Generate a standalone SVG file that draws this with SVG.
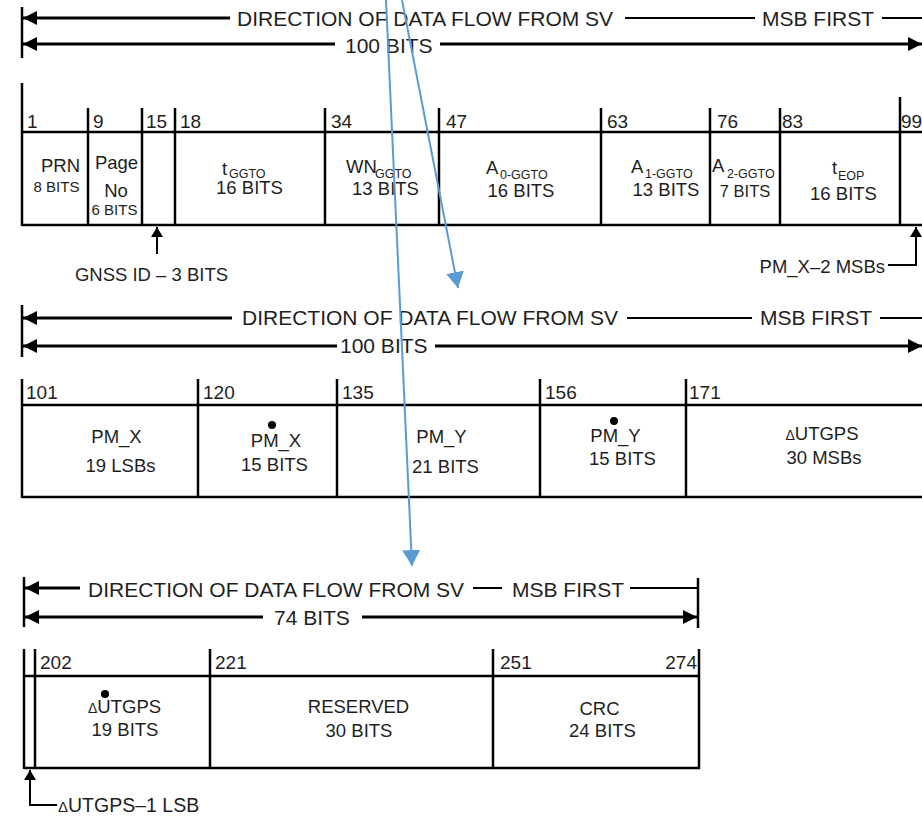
<svg xmlns="http://www.w3.org/2000/svg" width="922" height="818" viewBox="0 0 922 818">
<style>
text{font-family:"Liberation Sans",Arial,sans-serif;fill:#1e1e1e}
.h{font-size:21px}
.n{font-size:19px}
.l{font-size:18.5px}
.s{font-size:15px}
.sub{font-size:12.5px}
.m{text-anchor:middle}
.ln{stroke:#000;stroke-width:2.5;fill:none}
.ar{stroke:#000;stroke-width:3;fill:none}
.dl{stroke:#000;stroke-width:2;fill:none}
.bl{stroke:#5B9BD5;stroke-width:2;fill:none}
</style>
<defs>
<marker id="ah" viewBox="0 0 14 14" refX="14" refY="7" markerWidth="14" markerHeight="14" markerUnits="userSpaceOnUse" orient="auto-start-reverse">
<path d="M0,0 L14,7 L0,14 z" fill="#000"/>
</marker>
<marker id="sh" viewBox="0 0 10 12" refX="10" refY="6" markerWidth="10" markerHeight="12" markerUnits="userSpaceOnUse" orient="auto-start-reverse">
<path d="M0,0 L10,6 L0,12 z" fill="#000"/>
</marker>
<marker id="bh" viewBox="0 0 16 18" refX="16" refY="9" markerWidth="16" markerHeight="18" markerUnits="userSpaceOnUse" orient="auto">
<path d="M0,0 L16,9 L0,18 z" fill="#5B9BD5"/>
</marker>
</defs>

<!-- Header 1 -->
<g id="header1">
<line class="ln" x1="22" y1="7" x2="22" y2="58"/>
<line class="ar" x1="23" y1="18" x2="230" y2="18" marker-start="url(#ah)"/>
<text class="h" x="237" y="26">DIRECTION OF DATA FLOW FROM SV</text>
<line class="dl" x1="625" y1="18" x2="755" y2="18"/>
<text class="h" x="762" y="26">MSB FIRST</text>
<line class="dl" x1="882" y1="18" x2="922" y2="18"/>
<line class="ar" x1="23" y1="44" x2="335" y2="44" marker-start="url(#ah)"/>
<text class="h" x="345" y="53">100 BITS</text>
<line class="ar" x1="440" y1="44" x2="922" y2="44" marker-end="url(#ah)"/>
</g>

<!-- Table 1 -->
<g id="table1">
<line class="ln" x1="22" y1="132" x2="922" y2="132"/>
<line class="ln" x1="22" y1="225" x2="922" y2="225"/>
<line class="ln" x1="22" y1="83" x2="22" y2="226"/>
<line class="ln" x1="88" y1="108" x2="88" y2="225"/>
<line class="ln" x1="142" y1="108" x2="142" y2="225"/>
<line class="ln" x1="175" y1="108" x2="175" y2="225"/>
<line class="ln" x1="325" y1="108" x2="325" y2="225"/>
<line class="ln" x1="439" y1="108" x2="439" y2="225"/>
<line class="ln" x1="601" y1="108" x2="601" y2="225"/>
<line class="ln" x1="710" y1="108" x2="710" y2="225"/>
<line class="ln" x1="780" y1="108" x2="780" y2="225"/>
<line class="ln" x1="900" y1="97" x2="900" y2="225"/>
</g>
<g id="f-prn">
<text class="n" x="27" y="128">1</text>
<text class="l m" x="60.5" y="172">PRN</text>
<text class="s m" x="56.5" y="192">8 BITS</text>
</g>
<g id="f-page">
<text class="n" x="93" y="128">9</text>
<text class="l m" x="116.5" y="169">Page</text>
<text class="l m" x="116" y="197">No</text>
<text class="s m" x="114.5" y="215">6 BITS</text>
</g>
<g id="f-gnss">
<text class="n" x="146" y="128">15</text>
</g>
<g id="f-tggto">
<text class="n" x="180" y="128">18</text>
<text class="l" x="222" y="175">t</text>
<text class="sub" x="229" y="178">GGTO</text>
<text class="l m" x="249.5" y="194">16 BITS</text>
</g>
<g id="f-wnggto">
<text class="n" x="331" y="128">34</text>
<text class="l" x="346" y="173">WN</text>
<text class="sub" x="375" y="178">GGTO</text>
<text class="l m" x="385.5" y="195">13 BITS</text>
</g>
<g id="f-a0">
<text class="n" x="446" y="128">47</text>
<text class="l" x="486" y="174">A</text>
<text class="sub" x="500" y="179">0-GGTO</text>
<text class="l m" x="521" y="197">16 BITS</text>
</g>
<g id="f-a1">
<text class="n" x="607" y="128">63</text>
<text class="l" x="631" y="173">A</text>
<text class="sub" x="645" y="178">1-GGTO</text>
<text class="l m" x="666" y="196">13 BITS</text>
</g>
<g id="f-a2">
<text class="n" x="717" y="128">76</text>
<text class="l" x="712" y="172">A</text>
<text class="sub" x="727" y="178">2-GGTO</text>
<text class="m" style="font-size:16.5px" x="745" y="197">7 BITS</text>
</g>
<g id="f-teop">
<text class="n" x="782" y="128">83</text>
<text class="l" x="832" y="174">t</text>
<text class="sub" x="838" y="180">EOP</text>
<text class="l m" x="843.5" y="200">16 BITS</text>
</g>
<g id="f-pmxmsb">
<text class="n" x="901" y="128">99</text>
</g>
<g id="note-gnss">
<text class="l m" x="151.5" y="281">GNSS ID – 3 BITS</text>
</g>
<g id="note-pmx">
<text class="l" x="885" y="273" text-anchor="end">PM_X–2 MSBs</text>
</g>

<!-- Header 2 -->
<g id="header2">
<line class="ln" x1="22" y1="305" x2="22" y2="357"/>
<line class="ar" x1="23" y1="318" x2="232" y2="318" marker-start="url(#ah)"/>
<text class="h" x="242" y="325">DIRECTION OF DATA FLOW FROM SV</text>
<line class="dl" x1="627" y1="318" x2="752" y2="318"/>
<text class="h" x="760" y="325">MSB FIRST</text>
<line class="dl" x1="880" y1="318" x2="922" y2="318"/>
<line class="ar" x1="23" y1="346" x2="337" y2="346" marker-start="url(#ah)"/>
<text class="h" x="340" y="353">100 BITS</text>
<line class="ar" x1="435" y1="346" x2="922" y2="346" marker-end="url(#ah)"/>
</g>

<!-- Table 2 -->
<g id="table2">
<line class="ln" x1="22" y1="405" x2="922" y2="405"/>
<line class="ln" x1="22" y1="497" x2="922" y2="497"/>
<line class="ln" x1="22" y1="379" x2="22" y2="498"/>
<line class="ln" x1="198" y1="379" x2="198" y2="497"/>
<line class="ln" x1="337" y1="379" x2="337" y2="497"/>
<line class="ln" x1="540" y1="379" x2="540" y2="497"/>
<line class="ln" x1="686" y1="379" x2="686" y2="497"/>
</g>
<g id="f-pmx">
<text class="n" x="26" y="399">101</text>
<text class="l m" x="116.5" y="443">PM_X</text>
<text class="l m" x="120.5" y="472">19 LSBs</text>
</g>
<g id="f-pmxdot">
<text class="n" x="203" y="399">120</text>
<circle cx="272" cy="425" r="4" fill="#000"/>
<text class="l m" x="276" y="447">PM_X</text>
<text class="l m" x="274.5" y="471">15 BITS</text>
</g>
<g id="f-pmy">
<text class="n" x="342" y="399">135</text>
<text class="l m" x="441.5" y="443">PM_Y</text>
<text class="l m" x="445.5" y="473">21 BITS</text>
</g>
<g id="f-pmydot">
<text class="n" x="545" y="399">156</text>
<circle cx="614" cy="421" r="4" fill="#000"/>
<text class="l m" x="615.5" y="442">PM_Y</text>
<text class="l m" x="622.5" y="465">15 BITS</text>
</g>
<g id="f-utgps">
<text class="n" x="689" y="399">171</text>
<text class="l m" x="822" y="440"><tspan style="font-size:14px">Δ</tspan>UTGPS</text>
<text class="l m" x="824" y="464">30 MSBs</text>
</g>

<!-- Header 3 -->
<g id="header3">
<line class="ln" x1="24" y1="577" x2="24" y2="627"/>
<line class="ln" x1="698" y1="578" x2="698" y2="628"/>
<line class="ar" x1="25" y1="588" x2="80" y2="588" marker-start="url(#ah)"/>
<text class="h" x="88" y="597">DIRECTION OF DATA FLOW FROM SV</text>
<line class="dl" x1="473" y1="588" x2="502" y2="588"/>
<text class="h" x="512" y="597">MSB FIRST</text>
<line class="dl" x1="630" y1="588" x2="698" y2="588"/>
<line class="ar" x1="25" y1="617" x2="263" y2="617" marker-start="url(#ah)"/>
<text class="h" x="274" y="625">74 BITS</text>
<line class="ar" x1="362" y1="617" x2="697" y2="617" marker-end="url(#ah)"/>
</g>

<!-- Table 3 -->
<g id="table3">
<line class="ln" x1="24" y1="676" x2="700" y2="676"/>
<line class="ln" x1="24" y1="768" x2="700" y2="768"/>
<line class="ln" x1="24" y1="649" x2="24" y2="769"/>
<line class="ln" x1="35" y1="649" x2="35" y2="768"/>
<line class="ln" x1="210" y1="649" x2="210" y2="768"/>
<line class="ln" x1="493" y1="649" x2="493" y2="768"/>
<line class="ln" x1="699" y1="649" x2="699" y2="769"/>
</g>
<g id="f-utgpsdot">
<text class="n" x="40" y="669">202</text>
<circle cx="105" cy="694" r="4" fill="#000"/>
<text class="l" x="88" y="713"><tspan style="font-size:14px">Δ</tspan>UTGPS</text>
<text class="l m" x="125" y="736">19 BITS</text>
</g>
<g id="f-reserved">
<text class="n" x="215" y="669">221</text>
<text class="l m" x="358.5" y="713">RESERVED</text>
<text class="l m" x="359" y="737">30 BITS</text>
</g>
<g id="f-crc">
<text class="n" x="500" y="669">251</text>
<text class="n" x="697" y="669" text-anchor="end">274</text>
<text class="l m" x="599.5" y="715">CRC</text>
<text class="l m" x="602.5" y="737">24 BITS</text>
</g>
<g id="note-lsb">
<text x="58" y="812" style="font-size:19.5px"><tspan style="font-size:15px">Δ</tspan>UTGPS–1 LSB</text>
</g>

<!-- Connectors -->
<g id="connectors">
<line class="dl" x1="157" y1="254" x2="157" y2="227" marker-end="url(#sh)"/>
<polyline class="dl" points="888,265 916,265 916,227" marker-end="url(#sh)"/>
<polyline class="dl" points="57,805 30,805 30,770" marker-end="url(#sh)"/>
<line class="bl" x1="386" y1="0" x2="412" y2="566" marker-end="url(#bh)"/>
<line class="bl" x1="402" y1="0" x2="458" y2="288" marker-end="url(#bh)"/>
</g>
</svg>
